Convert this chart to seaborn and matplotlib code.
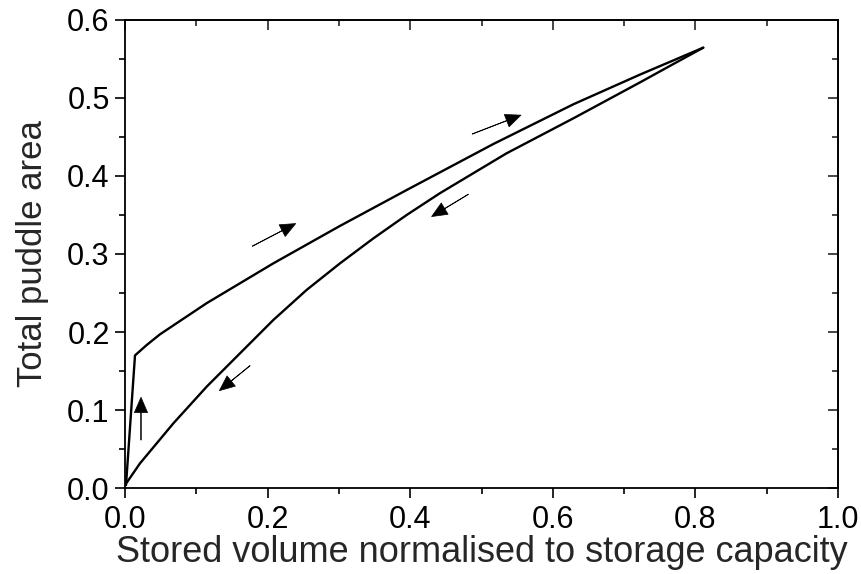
import matplotlib
matplotlib.use("Agg")
import matplotlib.pyplot as plt
from matplotlib.ticker import MultipleLocator
import seaborn as sns
import pandas as pd

# Filling (wetting) branch
fill_x = [0.0014, 0.014, 0.030, 0.049, 0.1146, 0.208, 0.3015, 0.395, 0.5166, 0.629, 0.7223, 0.811]
fill_y = [0.0038, 0.170, 0.183, 0.197, 0.237, 0.288, 0.336, 0.382, 0.441, 0.492, 0.530, 0.5645]
# Drying branch
dry_x = [0.811, 0.769, 0.7223, 0.629, 0.535, 0.4418, 0.395, 0.3483, 0.3015, 0.2548,
         0.208, 0.1613, 0.1146, 0.0678, 0.021, 0.0023]
dry_y = [0.5645, 0.5435, 0.520, 0.474, 0.429, 0.378, 0.350, 0.320, 0.288, 0.254,
         0.2154, 0.1727, 0.130, 0.0829, 0.0316, 0.0068]

# Direction arrows (tail -> tip)
arrow_tail_x = [0.0224, 0.1753, 0.1786, 0.4815, 0.487]
arrow_tail_y = [0.0615, 0.1568, 0.310, 0.3765, 0.4538]
arrow_tip_x = [0.0224, 0.1323, 0.2394, 0.430, 0.5553]
arrow_tip_y = [0.1163, 0.1248, 0.339, 0.348, 0.478]

xticks = [0.0, 0.2, 0.4, 0.6, 0.8, 1.0]
yticks = [0.0, 0.1, 0.2, 0.3, 0.4, 0.5, 0.6]

sns.set_theme(style="ticks")
plt.rcParams['font.family'] = ['Liberation Sans', 'DejaVu Sans']

fig = plt.figure(figsize=(8.61, 5.74), dpi=100)
ax = fig.add_axes([0.1452, 0.1498, 0.9733 - 0.1452, 0.9652 - 0.1498])

df_fill = pd.DataFrame({"x": fill_x, "y": fill_y})
df_dry = pd.DataFrame({"x": dry_x, "y": dry_y})
sns.lineplot(data=df_fill, x="x", y="y", sort=False, color="black", lw=1.7, ax=ax, estimator=None)
sns.lineplot(data=df_dry, x="x", y="y", sort=False, color="black", lw=1.7, ax=ax, estimator=None)

for tx, ty, hx, hy in zip(arrow_tail_x, arrow_tail_y, arrow_tip_x, arrow_tip_y):
    ax.annotate("", xy=(hx, hy), xytext=(tx, ty),
                arrowprops=dict(facecolor="black", edgecolor="black", width=0.3,
                                headwidth=9.5, headlength=11, shrink=0, lw=0.5))

ax.set_xlim(0, 1.0)
ax.set_ylim(0, 0.6)
ax.set_xticks(xticks)
ax.set_yticks(yticks)
ax.set_xticklabels([f"{v:.1f}" for v in xticks])
ax.set_yticklabels([f"{v:.1f}" for v in yticks])
ax.xaxis.set_minor_locator(MultipleLocator(0.1))
ax.yaxis.set_minor_locator(MultipleLocator(0.05))

for s in ax.spines.values():
    s.set_visible(True)
    s.set_linewidth(1.3)
    s.set_color("black")

ax.tick_params(which="major", direction="out", length=7, width=1.2, labelsize=22, colors="black")
ax.tick_params(axis="x", which="major", pad=5)
ax.tick_params(axis="y", which="major", pad=4)
ax.tick_params(which="minor", direction="out", length=4, width=1.2, colors="black")

secx = ax.secondary_xaxis("top")
secx.set_xticks(xticks)
secx.xaxis.set_minor_locator(MultipleLocator(0.1))
secx.tick_params(which="major", direction="in", length=7, width=1.2, labeltop=False)
secx.tick_params(which="minor", direction="in", length=4, width=1.2)
secx.spines["top"].set_linewidth(1.3)

secy = ax.secondary_yaxis("right")
secy.set_yticks(yticks)
secy.yaxis.set_minor_locator(MultipleLocator(0.05))
secy.tick_params(which="major", direction="in", length=7, width=1.2, labelright=False)
secy.tick_params(which="minor", direction="in", length=4, width=1.2)
secy.spines["right"].set_linewidth(1.3)

ax.set_xlabel("Stored volume normalised to storage capacity", fontsize=26, labelpad=0)
ax.set_ylabel("Total puddle area", fontsize=25, labelpad=13)

fig.savefig("out.png", dpi=100, facecolor="white")
